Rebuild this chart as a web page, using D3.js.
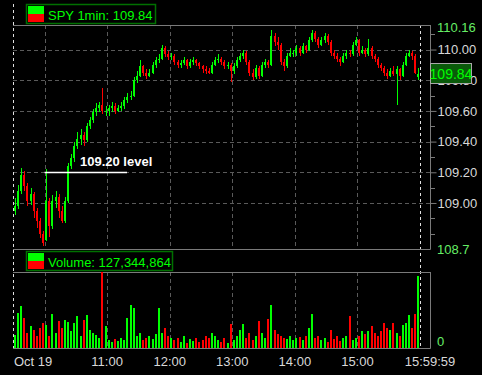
<!DOCTYPE html>
<html>
<head>
<meta charset="utf-8">
<script src="https://cdn.jsdelivr.net/npm/d3@7"></script>
<style>
  body { margin: 0; background: #000; }
  svg { display: block; font-family: "Liberation Sans", Arial, sans-serif; }
</style>
</head>
<body>
<div id="vis"></div>
<script>
const width = 482;
const height = 375;

// 3-minute candles from 9:30
const opens = [108.95,108.98,109.08,109.18,109.11,109.01,109.06,108.95,108.88,108.80,
  108.76,109.01,108.85,109.01,109.04,108.95,108.88,109.01,109.24,109.29,
  109.37,109.42,109.44,109.41,109.50,109.54,109.59,109.62,109.64,109.60,
  109.60,109.62,109.63,109.60,109.62,109.63,109.67,109.69,109.70,109.80,
  109.83,109.89,109.85,109.83,109.85,109.90,109.93,109.94,110.01,109.97,
  109.95,109.96,109.92,109.90,109.91,109.93,109.89,109.92,109.93,109.91,
  109.89,109.87,109.86,109.85,109.90,109.93,109.94,109.92,109.89,109.90,
  109.86,109.89,109.93,109.96,109.98,109.92,109.85,109.82,109.88,109.83,
  109.90,109.92,109.90,110.09,110.05,110.03,109.92,109.89,109.96,109.98,
  109.98,110.01,109.98,110.02,110.00,110.06,110.11,110.07,110.03,110.06,
  110.09,110.05,109.98,109.96,109.94,109.92,109.96,109.98,109.97,110.03,
  110.06,109.98,110.00,109.97,110.01,109.96,109.94,109.90,109.88,109.85,
  109.83,109.86,109.84,109.87,109.83,109.90,109.96,109.98,109.96,109.82];
const closes = [108.98,109.08,109.18,109.11,109.01,109.06,108.95,108.88,108.80,108.74,
  109.01,108.85,109.01,109.04,108.95,108.88,109.01,109.24,109.29,109.37,
  109.42,109.44,109.41,109.50,109.54,109.59,109.62,109.64,109.60,109.60,
  109.62,109.63,109.60,109.62,109.63,109.67,109.69,109.70,109.80,109.83,
  109.89,109.85,109.83,109.85,109.90,109.93,109.94,110.01,109.97,109.95,
  109.96,109.92,109.90,109.91,109.93,109.89,109.92,109.93,109.91,109.89,
  109.87,109.86,109.85,109.90,109.93,109.94,109.92,109.89,109.90,109.86,
  109.89,109.93,109.96,109.98,109.92,109.85,109.82,109.88,109.83,109.90,
  109.92,109.90,110.09,110.05,110.03,109.92,109.89,109.96,109.98,109.98,
  110.01,109.98,110.02,110.00,110.06,110.11,110.07,110.03,110.06,110.09,
  110.05,109.98,109.96,109.94,109.92,109.96,109.98,109.97,110.03,110.06,
  109.98,110.00,109.97,110.01,109.96,109.94,109.90,109.88,109.85,109.83,
  109.86,109.84,109.87,109.83,109.90,109.96,109.98,109.96,109.85,109.84];
const highs = [109.03,109.12,109.23,109.21,109.13,109.10,109.07,108.97,108.90,108.82,
  109.22,109.03,109.05,109.08,109.06,108.98,109.04,109.26,109.32,109.40,
  109.46,109.48,109.46,109.52,109.56,109.61,109.65,109.66,109.75,109.63,
  109.64,109.66,109.65,109.64,109.66,109.69,109.72,109.73,109.82,109.86,
  109.93,109.90,109.87,109.87,109.92,109.95,109.97,110.03,110.02,109.99,
  109.98,109.97,109.93,109.93,109.95,109.94,109.94,109.95,109.94,109.92,
  109.90,109.89,109.88,109.92,109.95,109.97,109.95,109.93,109.92,109.91,
  109.91,109.95,109.98,110.00,109.99,109.93,109.87,109.90,109.89,109.92,
  109.94,109.93,110.13,110.11,110.08,110.04,109.94,109.98,110.01,110.00,
  110.03,110.02,110.04,110.03,110.08,110.13,110.12,110.08,110.08,110.11,
  110.10,110.06,110.00,109.98,109.95,109.98,110.00,110.00,110.05,110.08,
  110.07,110.02,110.01,110.07,110.02,109.97,109.95,109.91,109.89,109.87,
  109.88,109.89,109.89,109.88,109.92,109.98,110.00,109.99,109.97,109.88];
const lows = [108.92,108.96,109.06,109.08,108.98,108.99,108.90,108.84,108.77,108.72,
  108.75,108.78,108.83,108.97,108.90,108.87,108.87,109.00,109.22,109.27,
  109.35,109.38,109.37,109.40,109.48,109.52,109.57,109.59,109.58,109.57,
  109.57,109.59,109.58,109.59,109.60,109.61,109.65,109.67,109.69,109.78,
  109.82,109.83,109.81,109.82,109.84,109.88,109.91,109.93,109.95,109.93,
  109.93,109.90,109.88,109.88,109.90,109.87,109.88,109.90,109.89,109.87,
  109.85,109.84,109.84,109.84,109.89,109.91,109.90,109.87,109.87,109.79,
  109.84,109.88,109.92,109.94,109.90,109.83,109.80,109.81,109.81,109.82,
  109.88,109.88,109.89,110.02,110.00,109.90,109.86,109.88,109.95,109.95,
  109.96,109.96,109.97,109.98,109.99,110.05,110.05,110.01,110.02,110.04,
  110.03,109.96,109.94,109.92,109.89,109.91,109.94,109.95,109.96,110.02,
  109.96,109.97,109.95,109.96,109.94,109.92,109.88,109.86,109.83,109.81,
  109.82,109.83,109.64,109.80,109.82,109.89,109.95,109.93,109.84,109.80];
// volume, thousands of shares
const volumes = [390,1050,1260,900,450,660,540,360,600,750,
  690,360,1020,450,810,600,840,780,510,750,
  960,360,840,990,540,450,390,300,2280,660,
  240,180,270,210,300,240,900,1290,1200,360,
  450,240,300,360,270,420,1200,450,600,360,
  300,240,300,180,360,150,270,210,300,180,
  240,360,300,450,360,240,180,300,150,720,
  240,360,540,720,300,450,240,360,810,450,
  300,870,1290,540,420,360,300,270,360,240,
  300,330,240,360,600,1020,300,360,240,300,
  180,540,270,360,210,300,360,960,240,300,
  360,510,420,510,660,450,360,510,750,600,
  540,750,450,360,690,750,990,600,1020,2160];

const barMinutes = 3;
const hourTicks = [30, 90, 150, 210, 270, 330];   // 10:00 .. 15:00
const hourLabels = ["", "11:00", "12:00", "13:00", "14:00", "15:00"];
const majorPrices = [110.00, 109.80, 109.60, 109.40, 109.20, 109.00];
const minorPrices = [110.10, 109.90, 109.70, 109.50, 109.30, 109.10, 108.90, 108.80];
const lastPrice = 109.84;
const levelPrice = 109.20;

const green = "#00ff00", red = "#ff0000";
const frameColor = "#7a7a7a", gridColor = "#5a5a5a", textColor = "#d8d8d8";

const svg = d3.select("#vis").append("svg")
  .attr("width", width)
  .attr("height", height)
  .style("background", "#000");

// scales
const x = d3.scaleLinear().domain([0, 390]).range([13.3, 420]);
const y = d3.scaleLinear().domain([108.7, 110.16]).range([249, 25]);
const yVol = d3.scaleLinear().domain([0, 2280]).range([348, 272]);

const axisX = 430;

// gridlines
svg.append("g").selectAll("line")
  .data(majorPrices)
  .enter().append("line")
  .attr("x1", 13).attr("x2", axisX)
  .attr("y1", d => Math.round(y(d)) + 0.5).attr("y2", d => Math.round(y(d)) + 0.5)
  .attr("stroke", gridColor).attr("stroke-dasharray", "4,3");

const hours = svg.append("g");
hourTicks.forEach(m => {
  const xx = Math.round(x(m)) + 0.5;
  hours.append("line").attr("x1", xx).attr("x2", xx).attr("y1", 25).attr("y2", 249)
    .attr("stroke", gridColor).attr("stroke-dasharray", "4,3");
  hours.append("line").attr("x1", xx).attr("x2", xx).attr("y1", 272).attr("y2", 348)
    .attr("stroke", gridColor).attr("stroke-dasharray", "4,3");
});

// session boundaries
svg.append("line").attr("x1", 13.5).attr("x2", 13.5).attr("y1", 4).attr("y2", 348)
  .attr("stroke", "#e0e0e0").attr("stroke-dasharray", "3,3");
svg.append("line").attr("x1", Math.round(x(390)) + 0.5).attr("x2", Math.round(x(390)) + 0.5)
  .attr("y1", 25).attr("y2", 348)
  .attr("stroke", "#e0e0e0").attr("stroke-dasharray", "3,3");

// frame lines
[25, 249, 272, 348].forEach(v => {
  svg.append("line").attr("x1", 13).attr("x2", axisX + 0.5)
    .attr("y1", v + 0.5).attr("y2", v + 0.5).attr("stroke", frameColor);
});
svg.append("line").attr("x1", axisX + 0.5).attr("x2", axisX + 0.5).attr("y1", 25).attr("y2", 249.5).attr("stroke", frameColor);
svg.append("line").attr("x1", axisX + 0.5).attr("x2", axisX + 0.5).attr("y1", 272).attr("y2", 348.5).attr("stroke", frameColor);

// candles
const candles = d3.range(closes.length).map(i => ({
  t: i * barMinutes, o: opens[i], h: highs[i], l: lows[i], c: closes[i], v: volumes[i]
}));
const colorOf = d => d.c >= d.o ? green : red;

const cg = svg.append("g").attr("shape-rendering", "crispEdges");
cg.selectAll("line")
  .data(candles)
  .enter().append("line")
  .attr("x1", d => Math.round(x(d.t + barMinutes / 2)) + 0.5)
  .attr("x2", d => Math.round(x(d.t + barMinutes / 2)) + 0.5)
  .attr("y1", d => y(d.h))
  .attr("y2", d => y(d.l))
  .attr("stroke", colorOf);
cg.selectAll("rect")
  .data(candles)
  .enter().append("rect")
  .attr("x", d => Math.round(x(d.t + barMinutes / 2)) - 1)
  .attr("width", 2)
  .attr("y", d => y(Math.max(d.o, d.c)))
  .attr("height", d => Math.max(1, Math.abs(y(d.o) - y(d.c))))
  .attr("fill", colorOf);

// volume bars
svg.append("g").attr("shape-rendering", "crispEdges")
  .selectAll("rect")
  .data(candles)
  .enter().append("rect")
  .attr("x", d => Math.round(x(d.t + barMinutes / 2)) - 1)
  .attr("width", 2)
  .attr("y", d => yVol(d.v))
  .attr("height", d => yVol(0) - yVol(d.v))
  .attr("fill", colorOf);

// 109.20 level annotation
svg.append("line")
  .attr("x1", x(30)).attr("x2", 127)
  .attr("y1", Math.round(y(levelPrice)) + 0.5).attr("y2", Math.round(y(levelPrice)) + 0.5)
  .attr("stroke", "#fff").attr("stroke-width", 1.5);
svg.append("text")
  .attr("x", 80).attr("y", y(levelPrice) - 6)
  .attr("fill", "#fff").attr("font-size", 13).attr("font-weight", "bold")
  .text("109.20 level");

// right price axis
const priceAxis = d3.axisRight(y).tickValues(majorPrices).tickSize(6).tickPadding(1)
  .tickFormat(d3.format(".2f"));
const pa = svg.append("g").attr("transform", `translate(${axisX + 0.5},0)`).call(priceAxis);
pa.select(".domain").remove();
pa.selectAll("line").attr("stroke", frameColor);
pa.selectAll("text").attr("fill", textColor).attr("font-size", 13)
  .attr("font-family", "Liberation Sans, Arial, sans-serif");

svg.append("g").selectAll("line")
  .data(minorPrices)
  .enter().append("line")
  .attr("x1", axisX).attr("x2", axisX + 5)
  .attr("y1", d => Math.round(y(d)) + 0.5).attr("y2", d => Math.round(y(d)) + 0.5)
  .attr("stroke", frameColor);

svg.append("text").attr("x", 437).attr("y", y(110.16) + 7)
  .attr("fill", "#66ee66").attr("font-size", 13).text("110.16");
svg.append("text").attr("x", 437).attr("y", y(108.7) + 5)
  .attr("fill", "#66ee66").attr("font-size", 13).text("108.7");
svg.append("text").attr("x", 437).attr("y", yVol(0) - 2)
  .attr("fill", "#66ee66").attr("font-size", 13).text("0");

// last price box
svg.append("rect")
  .attr("x", axisX + 0.5).attr("y", Math.round(y(lastPrice)) - 10.5)
  .attr("width", 41).attr("height", 20)
  .attr("fill", "#0a5a0a").attr("stroke", "#a8a8a8");
svg.append("text")
  .attr("x", axisX + 21).attr("y", y(lastPrice) + 5)
  .attr("text-anchor", "middle").attr("fill", green).attr("font-size", 14)
  .text(lastPrice.toFixed(2));

// time axis labels
svg.append("g").selectAll("text")
  .data(hourTicks.filter((d, i) => hourLabels[i]))
  .enter().append("text")
  .attr("x", d => x(d)).attr("y", 366)
  .attr("text-anchor", "middle").attr("fill", textColor).attr("font-size", 13)
  .text(d => hourLabels[hourTicks.indexOf(d)]);
svg.append("text").attr("x", 14).attr("y", 366)
  .attr("fill", textColor).attr("font-size", 13).text("Oct 19");
svg.append("text").attr("x", axisX).attr("y", 366)
  .attr("text-anchor", "middle").attr("fill", textColor).attr("font-size", 13).text("15:59:59");

// legends
function legend(yTop, w, label) {
  const g = svg.append("g");
  g.append("rect").attr("x", 26.5).attr("y", yTop + 0.5).attr("width", w).attr("height", 19)
    .attr("fill", "#000").attr("stroke", "#007000").attr("stroke-width", 1.5);
  g.append("rect").attr("x", 28).attr("y", yTop + 2).attr("width", 16).attr("height", 8).attr("fill", green);
  g.append("rect").attr("x", 28).attr("y", yTop + 10).attr("width", 16).attr("height", 8).attr("fill", red);
  g.append("text").attr("x", 48).attr("y", yTop + 15.5)
    .attr("fill", green).attr("font-size", 13).text(label);
}
legend(4, 129, "SPY 1min: " + lastPrice.toFixed(2));
legend(251, 146, "Volume: 127,344,864");
</script>
</body>
</html>
